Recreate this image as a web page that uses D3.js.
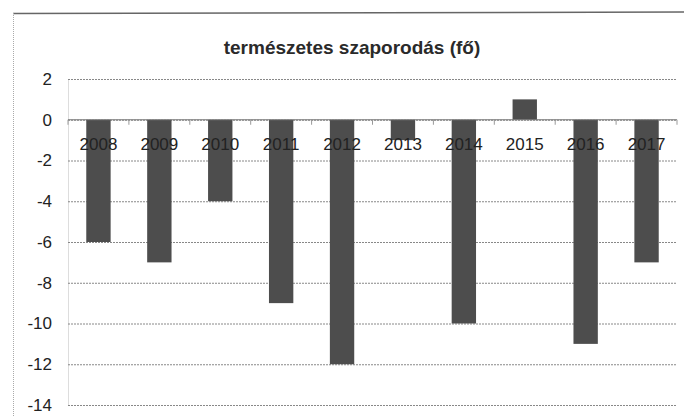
<!DOCTYPE html>
<html>
<head>
<meta charset="utf-8">
<script src="https://cdn.jsdelivr.net/npm/d3@7"></script>
<style>
  body { margin: 0; background: #fff; }
  svg { display: block; font-family: "Liberation Sans", Arial, sans-serif; }
</style>
</head>
<body>
<svg width="684" height="416"></svg>
<script>
// data
const years = ["2008", "2009", "2010", "2011", "2012", "2013", "2014", "2015", "2016", "2017"]
const values = [-6, -7, -4, -9, -12, -1, -10, 1, -11, -7]
const yTicks = [2, 0, -2, -4, -6, -8, -10, -12, -14]
const title = "természetes szaporodás (fő)"

const svg = d3.select("svg")

// chart frame (only top + left edges are in the scan)
svg.append("line")
  .attr("x1", 13).attr("y1", 13.5).attr("x2", 684).attr("y2", 12)
  .attr("stroke", "#666").attr("stroke-width", 1.5)
svg.append("line")
  .attr("x1", 13.5).attr("y1", 13).attr("x2", 13.5).attr("y2", 416)
  .attr("stroke", "#aaa").attr("stroke-dasharray", "1,1")

// title
svg.append("text")
  .attr("x", 352).attr("y", 54)
  .attr("text-anchor", "middle")
  .attr("font-weight", "bold")
  .attr("font-size", 19)
  .attr("fill", "#2a2a2a")
  .text(title)

// scales
const x = d3.scaleBand()
  .domain(years)
  .range([68, 677])
  .paddingInner(0.6)
  .paddingOuter(0.3)

const y = d3.scaleLinear()
  .domain([-14, 2])
  .range([405, 79])

// horizontal gridlines + y labels (plain hyphen minus like the original)
const axisY = d3.axisLeft(y)
  .tickValues(yTicks)
  .tickSizeInner(-609)
  .tickSizeOuter(0)
  .tickPadding(16)
  .tickFormat(d => String(d))

const gy = svg.append("g")
  .attr("transform", "translate(68,0)")
  .call(axisY)
gy.select(".domain").attr("stroke", "#bbb").attr("stroke-dasharray", "1,1")
gy.selectAll(".tick line")
  .attr("stroke", "#888")
  .attr("stroke-dasharray", "2,1")
gy.selectAll(".tick text")
  .attr("font-size", 17)
  .attr("fill", "#222")
  .attr("font-family", "Liberation Sans, Arial, sans-serif")

// bars
svg.selectAll("rect.bar")
  .data(values)
  .enter()
  .append("rect")
  .attr("class", "bar")
  .attr("x", (d, i) => x(years[i]))
  .attr("y", d => y(Math.max(0, d)))
  .attr("width", x.bandwidth())
  .attr("height", d => Math.abs(y(d) - y(0)))
  .attr("fill", "#4d4d4d")

// zero axis with small ticks at category boundaries
const boundaries = d3.range(years.length + 1).map(i => 68 + i * x.step())
svg.append("line")
  .attr("x1", 68).attr("x2", 677)
  .attr("y1", y(0)).attr("y2", y(0))
  .attr("stroke", "#777").attr("stroke-width", 1.2)
svg.selectAll("line.cat-tick")
  .data(boundaries)
  .enter()
  .append("line")
  .attr("class", "cat-tick")
  .attr("x1", d => d).attr("x2", d => d)
  .attr("y1", y(0)).attr("y2", y(0) + 5)
  .attr("stroke", "#999")

// category labels just below the zero line, over the bars
svg.selectAll("text.year")
  .data(years)
  .enter()
  .append("text")
  .attr("class", "year")
  .attr("x", d => x(d) + x.bandwidth() / 2)
  .attr("y", y(0) + 30)
  .attr("text-anchor", "middle")
  .attr("font-size", 17)
  .attr("fill", "#222")
  .text(d => d)
</script>
</body>
</html>
